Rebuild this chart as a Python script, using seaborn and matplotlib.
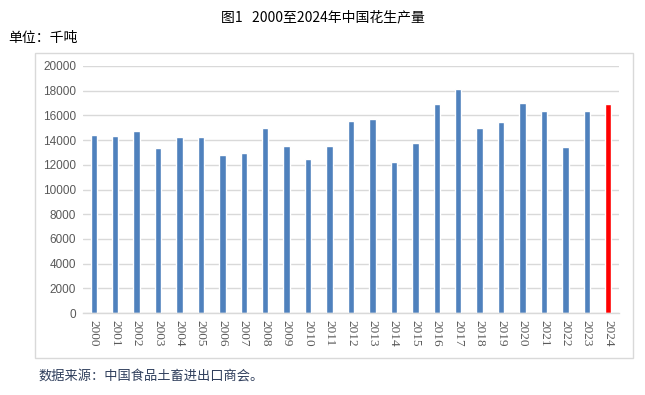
import matplotlib
matplotlib.use("Agg")
import matplotlib.pyplot as plt
import matplotlib.patches as mpatches
import seaborn as sns
import pandas as pd

years = [str(y) for y in range(2000, 2025)]
production = [14434, 14332, 14737, 13380, 14251, 14251, 12794, 12955, 14980,
              13522, 12470, 13522, 15547, 15709, 12227, 13765, 16923, 18138,
              14980, 15466, 17004, 16356, 13441, 16356, 16923]
bar_colors = ["#4F81BD"] * 24 + ["#FF0000"]
yticks = list(range(0, 20001, 2000))

title = "图1   2000至2024年中国花生产量"
unit_label = "单位：千吨"
source = "数据来源：中国食品土畜进出口商会。"

sns.set_theme(style="white")
plt.rcParams['font.family'] = ['Noto Sans CJK SC', 'DejaVu Sans']

W, H = 645, 395
fig = plt.figure(figsize=(W / 100, H / 100), dpi=100)
ax = fig.add_axes([83 / W, 1 - 313 / H, (619 - 83) / W, (313 - 66) / H])

df = pd.DataFrame({"year": years, "value": production})
sns.barplot(data=df, x="year", y="value", hue="year", palette=bar_colors,
            legend=False, width=0.3, ax=ax, saturation=1)

ax.set_ylim(0, 20000)
ax.set_yticks(yticks)
ax.set_yticklabels([str(t) for t in yticks], fontsize=8.5, color="#595959",
                   family=["Liberation Sans", "DejaVu Sans"])
ax.set_xticks(range(len(years)))
ax.set_xticklabels(years, rotation=270, fontsize=9.5, color="#595959",
                   family=["Liberation Serif", "DejaVu Serif"])
ax.tick_params(axis="both", length=0, pad=5)
ax.set_xlabel("")
ax.set_ylabel("")
ax.grid(axis="y", color="#D9D9D9", linewidth=1)
ax.set_axisbelow(True)
for s in ["top", "right", "left"]:
    ax.spines[s].set_visible(False)
ax.spines["bottom"].set_color("#D9D9D9")
ax.spines["bottom"].set_linewidth(1)
ax.set_xlim(-0.5, len(years) - 0.5)

# chart frame
frame = mpatches.Rectangle((35 / W, 1 - 358 / H), (633 - 35) / W, (358 - 53) / H,
                           transform=fig.transFigure, fill=False,
                           edgecolor="#D9D9D9", linewidth=1)
fig.patches.append(frame)

fig.text(0.5, 1 - 17 / H, title, ha="center", va="center", fontsize=10,
         color="black", family=["Noto Sans CJK SC", "DejaVu Sans"])
fig.text(8 / W, 1 - 38 / H, unit_label, ha="left", va="center", fontsize=10,
         color="black")
fig.text(38 / W, 1 - 377 / H, source, ha="left", va="center", fontsize=9.5,
         color="#2F3E5C")

fig.savefig("out.png", dpi=100)
